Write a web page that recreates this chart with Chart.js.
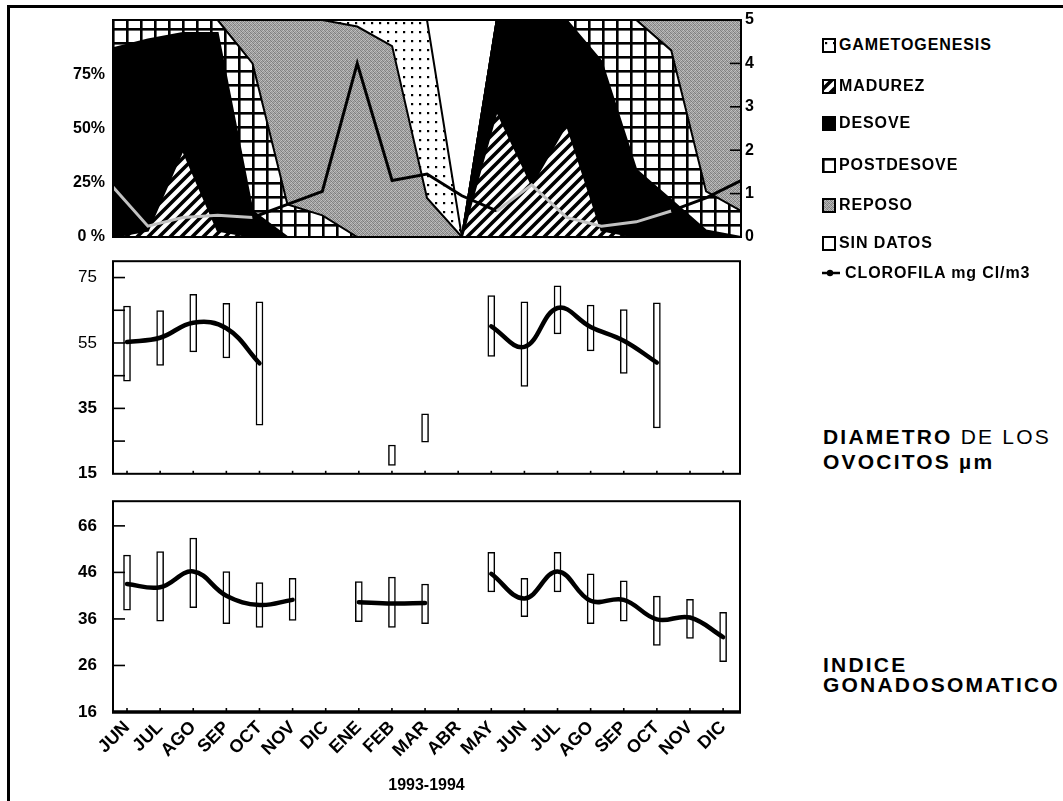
<!DOCTYPE html>
<html><head><meta charset="utf-8">
<script src="https://cdn.jsdelivr.net/npm/chart.js@4.4.1/dist/chart.umd.min.js"></script>
<style>
html,body{margin:0;padding:0;background:#fff;}
body{width:1063px;height:801px;position:relative;overflow:hidden;font-family:'Liberation Sans',Arial,sans-serif;color:#000;}
#frame{position:absolute;left:7px;top:5px;width:1060px;height:800px;border-left:3px solid #000;border-top:3px solid #000;box-sizing:border-box;}
canvas.chart{position:absolute;left:0;}
.leg{position:absolute;left:822px;height:18px;display:flex;align-items:center;font-size:16px;font-weight:bold;letter-spacing:0.9px;white-space:nowrap;}
.leg canvas{margin-right:3px;}
.side{position:absolute;left:823px;font-size:21px;font-weight:bold;letter-spacing:2.2px;white-space:nowrap;}
.side .n{font-weight:normal;}
</style></head><body>
<div id="frame"></div>
<canvas id="c1" class="chart" width="780" height="255" style="top:0px"></canvas>
<canvas id="c2" class="chart" width="780" height="265" style="top:235px"></canvas>
<canvas id="c3" class="chart" width="780" height="326" style="top:475px"></canvas>
<div id="legend"></div>
<div class="side" style="top:424px;line-height:25px;">DIAMETRO <span class="n">DE LOS</span><br>OVOCITOS µm</div>
<div class="side" style="top:655px;line-height:20px;">INDICE<br>GONADOSOMATICO</div>
<script>
// ---------------- DATA ----------------
const months = ['JUN','JUL','AGO','SEP','OCT','NOV','DIC','ENE','FEB','MAR','ABR','MAY','JUN','JUL','AGO','SEP','OCT','NOV','DIC'];
const xTitle = '1993-1994';

// Reproductive stages (% of individuals), stacked bottom -> top
const stageNames = ['MADUREZ','DESOVE','POSTDESOVE','REPOSO','GAMETOGENESIS','SIN DATOS'];
const madurez       = [0, 3, 40, 3, 0, 0, 0, 0, 0, 0, 0, 58, 24, 52, 3, 0, 0, 0, 0];
const desove        = [87, 88, 54, 91, 12, 0, 0, 0, 0, 0, 0, 42, 76, 48, 78, 31, 17, 3, 0];
const postdesove    = [13, 9, 6, 6, 68, 15, 10, 0, 0, 0, 0, 0, 0, 0, 19, 69, 69, 18, 12];
const reposo        = [0, 0, 0, 0, 20, 85, 90, 97, 88, 18, 0, 0, 0, 0, 0, 0, 14, 79, 88];
const gametogenesis = [0, 0, 0, 0, 0, 0, 0, 3, 12, 82, 0, 0, 0, 0, 0, 0, 0, 0, 0];
const sinDatos      = [0, 0, 0, 0, 0, 0, 0, 0, 0, 0, 100, 0, 0, 0, 0, 0, 0, 0, 0];
const clorofilaName = 'CLOROFILA mg Cl/m3';
const clorofila     = [1.15, 0.25, 0.45, 0.5, 0.45, 0.75, 1.05, 4.0, 1.3, 1.45, 0.95, 0.6, 1.2, 0.45, 0.25, 0.35, 0.6, 0.9, 1.3];
const pctTickValues  = [0, 25, 50, 75, 100];
const pctTickLabels  = ['0 %', '25%', '50%', '75%', ''];
const clorTickValues = [0, 1, 2, 3, 4, 5];
const clorTickLabels = ['0', '1', '2', '3', '4', '5'];

// Oocyte diameter (um): mean and range
const diamMean = [55.3, 56.6, 61.2, 59.5, 48.8, null, null, null, null, null, null, 60.1, 53.8, 65.7, 59.9, 55.7, 49.0, null, null];
const diamLow  = [43.3, 48.1, 52.3, 50.4, 29.9, null, null, null, 17.6, 24.7, null, 50.9, 41.7, 57.8, 52.6, 45.7, 29.0, null, null];
const diamHigh = [66.3, 64.9, 69.9, 67.1, 67.6, null, null, null, 23.8, 33.3, null, 69.5, 67.6, 72.5, 66.6, 65.2, 67.3, null, null];
const diamTickValues = [15, 25, 35, 45, 55, 65, 75];
const diamTickLabels = ['15', '', '35', '', '55', '', '75'];

// Gonadosomatic index: mean and range
const gsiMean = [43.5, 42.8, 46.2, 41.0, 39.0, 40.1, null, 39.6, 39.3, 39.4, null, 45.7, 40.4, 46.2, 39.9, 40.1, 35.9, 36.3, 32.1];
const gsiLow  = [37.9, 35.5, 38.4, 35.0, 34.2, 35.7, null, 35.4, 34.2, 35.0, null, 41.8, 36.5, 41.8, 35.0, 35.5, 30.3, 31.8, 26.8];
const gsiHigh = [49.7, 50.5, 53.4, 46.2, 43.8, 44.7, null, 44.0, 45.0, 43.5, null, 50.3, 44.7, 50.3, 45.7, 44.2, 40.9, 40.2, 37.4];
const gsiTickValues = [16, 26, 36, 46, 56];
const gsiTickLabels = ['16', '26', '36', '46', '66'];

// ---------------- STYLE / HELPERS ----------------
const FONT = "'Liberation Sans', Arial, Helvetica, sans-serif";
Chart.defaults.font.family = FONT;
Chart.defaults.color = '#000';
Chart.defaults.animation = false;
Chart.defaults.events = [];
Chart.defaults.plugins.legend.display = false;
Chart.defaults.plugins.tooltip.enabled = false;

function makeTile(w, h, draw) {
  const c = document.createElement('canvas'); c.width = w; c.height = h;
  const g = c.getContext('2d'); g.fillStyle = '#fff'; g.fillRect(0, 0, w, h); draw(g); return c;
}
const tiles = {
  dots: makeTile(8, 9, g => { g.fillStyle = '#000'; g.fillRect(3, 4, 2.2, 2.2); }),
  hatch: makeTile(11, 11, g => {
    g.strokeStyle = '#000'; g.lineWidth = 3.6; g.beginPath();
    g.moveTo(-3, 14); g.lineTo(14, -3); g.moveTo(-3, 3); g.lineTo(3, -3); g.moveTo(8, 14); g.lineTo(14, 8); g.stroke();
  }),
  grid: makeTile(14, 14, g => { g.fillStyle = '#000'; g.fillRect(0, 0, 14, 2.6); g.fillRect(0, 0, 2.6, 14); }),
  gray: makeTile(4, 4, g => {
    const v = [[150,192,128,176],[186,138,170,122],[132,172,146,196],[178,124,190,152]];
    for (let y = 0; y < 4; y++) for (let x = 0; x < 4; x++) { g.fillStyle = `rgb(${v[y][x]},${v[y][x]},${v[y][x]})`; g.fillRect(x, y, 1, 1); }
  })
};
const stageStyle = { 'MADUREZ': 'hatch', 'DESOVE': '#000', 'POSTDESOVE': 'grid', 'REPOSO': 'gray', 'GAMETOGENESIS': 'dots', 'SIN DATOS': '#fff' };
function paint(ctx, key) { return tiles[key] ? ctx.createPattern(tiles[key], 'repeat') : key; }

const xy = arr => arr.map((v, i) => ({ x: i, y: v }));
const ranges = (lo, hi) => lo.map((v, i) => (v == null ? null : { x: i, y: [v, hi[i]] })).filter(Boolean);
const monthIdx = months.map((_, i) => i);

const framePlugin = (w, bottomW) => ({
  id: 'frame',
  afterDraw(chart) {
    const { ctx, chartArea: a } = chart;
    ctx.save(); ctx.strokeStyle = '#000'; ctx.lineWidth = w;
    ctx.strokeRect(a.left, a.top, a.right - a.left, a.bottom - a.top);
    if (bottomW) { ctx.lineWidth = bottomW; ctx.beginPath(); ctx.moveTo(a.left - 1, a.bottom); ctx.lineTo(a.right + 1, a.bottom); ctx.stroke(); }
    ctx.restore();
  }
});
const innerTicks = specs => ({
  id: 'innerTicks',
  afterDraw(chart) {
    const { ctx, chartArea: a } = chart;
    ctx.save(); ctx.strokeStyle = '#000'; ctx.lineWidth = 1.6;
    specs.forEach(sp => {
      const s = chart.scales[sp.id];
      sp.values.forEach(v => {
        const p = s.getPixelForValue(v);
        ctx.beginPath();
        if (s.isHorizontal()) { ctx.moveTo(p, a.bottom); ctx.lineTo(p, a.bottom - sp.len); }
        else if (s.position === 'right') { ctx.moveTo(a.right, p); ctx.lineTo(a.right - sp.len, p); }
        else { ctx.moveTo(a.left, p); ctx.lineTo(a.left + sp.len, p); }
        ctx.stroke();
      });
    });
    ctx.restore();
  }
});
const noGrid = { display: false, drawTicks: false, offset: false };
const setTicks = vals => s => { s.ticks = vals.map(v => ({ value: v })); };

// ---------------- TOP: stages + chlorophyll ----------------
const c1 = document.getElementById('c1');
const ctx1 = c1.getContext('2d');
const stageData = [madurez, desove, postdesove, reposo, gametogenesis, sinDatos];
const inBlack = i => clorofila[i] * 20 <= madurez[i] + desove[i];
const topDatasets = stageData.map((arr, k) => ({
  label: stageNames[k], data: xy(arr), yAxisID: 'y',
  backgroundColor: paint(ctx1, stageStyle[stageNames[k]]),
  borderColor: '#000', borderWidth: 2, fill: k === 0 ? 'origin' : '-1',
  pointRadius: 0, tension: 0
}));
topDatasets.push({
  label: clorofilaName, data: xy(clorofila), yAxisID: 'y2', order: -1,
  borderColor: '#000', borderWidth: 3, fill: false, pointRadius: 0, tension: 0,
  segment: { borderColor: c => (inBlack(c.p0DataIndex) && inBlack(c.p1DataIndex)) ? '#c2c2c2' : '#000' }
});
new Chart(c1, {
  type: 'line',
  data: { datasets: topDatasets },
  options: {
    responsive: false,
    layout: { padding: { top: 20, bottom: 18, left: 0, right: 0 } },
    scales: {
      x: { type: 'linear', min: 0, max: 18, display: false, offset: false },
      y: { type: 'linear', position: 'left', stacked: true, min: 0, max: 100,
           afterFit: s => { s.width = 113; }, afterBuildTicks: setTicks(pctTickValues),
           ticks: { callback: (v, i) => pctTickLabels[i], padding: 8, font: { size: 16, weight: 'bold' } },
           grid: noGrid, border: { display: false } },
      y2: { type: 'linear', position: 'right', min: 0, max: 5,
            afterFit: s => { s.width = 39; }, afterBuildTicks: setTicks(clorTickValues),
            ticks: { callback: (v, i) => clorTickLabels[i], padding: 4, font: { size: 16, weight: 'bold' } },
            grid: noGrid, border: { display: false } }
    }
  },
  plugins: [framePlugin(2), innerTicks([{ id: 'y2', values: clorTickValues.slice(1, 5), len: 11 }])]
});

// ---------------- MIDDLE / BOTTOM: mean + range ----------------
const X_MIN = -0.423, X_MAX = 18.51;
function rangeChart(canvas, mean, lo, hi, yMin, yMax, tickVals, tickLabels, fontFn, padding, showX, tickSpec, frameArgs) {
  return new Chart(canvas, {
    type: 'bar',
    data: { datasets: [
      { type: 'line', data: xy(mean), borderColor: '#000', borderWidth: 4.5, pointRadius: 0, tension: 0.4,
        spanGaps: false, borderCapStyle: 'round', order: 0 },
      { type: 'bar', data: ranges(lo, hi), backgroundColor: '#fff', borderColor: '#000', borderWidth: 1.5,
        borderSkipped: false, barThickness: 7, order: 1 }
    ] },
    options: {
      responsive: false,
      layout: { padding: padding },
      scales: {
        x: showX ? {
          type: 'linear', min: X_MIN, max: X_MAX, offset: false,
          afterBuildTicks: setTicks(monthIdx), afterFit: s => { s.height = 85; },
          ticks: { autoSkip: false, maxRotation: 45, minRotation: 45, padding: 5,
                   callback: v => months[v], font: { size: 18, weight: 'bold' } },
          grid: noGrid, border: { display: false },
          title: { display: true, text: xTitle, font: { size: 16, weight: 'bold' }, padding: { top: 0, bottom: 2 } }
        } : { type: 'linear', min: X_MIN, max: X_MAX, display: false, offset: false, grid: noGrid },
        y: { type: 'linear', min: yMin, max: yMax,
             afterFit: s => { s.width = 113; }, afterBuildTicks: setTicks(tickVals),
             ticks: { callback: (v, i) => tickLabels[i], padding: 16, font: fontFn },
             grid: noGrid, border: { display: false } }
      }
    },
    plugins: [framePlugin(frameArgs[0], frameArgs[1]), innerTicks(tickSpec)]
  });
}

rangeChart(document.getElementById('c2'), diamMean, diamLow, diamHigh, 15, 80,
  diamTickValues, diamTickLabels,
  c => ({ size: 17, weight: (c.tick && c.tick.value <= 35) ? 'bold' : 'normal' }),
  { top: 17, bottom: 20, left: 0, right: 40 }, false,
  [{ id: 'y', values: diamTickValues.slice(1), len: 12 }, { id: 'x', values: monthIdx, len: 3 }], [2, 0]);

rangeChart(document.getElementById('c3'), gsiMean, gsiLow, gsiHigh, 16, 61.3,
  gsiTickValues, gsiTickLabels,
  { size: 17, weight: 'bold' },
  { top: 18, bottom: 4, left: 0, right: 40 }, true,
  [{ id: 'y', values: gsiTickValues.slice(1), len: 12 }, { id: 'x', values: monthIdx, len: 4 }], [2, 3.5]);

// ---------------- LEGEND ----------------
const legendOrder = ['GAMETOGENESIS', 'MADUREZ', 'DESOVE', 'POSTDESOVE', 'REPOSO', 'SIN DATOS'];
const legendY = [45, 86, 123, 165, 205, 243, 273];
const legend = document.getElementById('legend');
legendOrder.forEach((name, i) => {
  const d = document.createElement('div'); d.className = 'leg'; d.style.top = (legendY[i] - 9) + 'px';
  const sw = document.createElement('canvas'); sw.width = 14; sw.height = 15;
  const g = sw.getContext('2d'); g.fillStyle = paint(g, stageStyle[name]); g.fillRect(0, 0, 14, 15);
  g.strokeStyle = '#000'; g.lineWidth = 2; g.strokeRect(1, 1, 12, 13);
  d.appendChild(sw); d.appendChild(document.createTextNode(name)); legend.appendChild(d);
});
{
  const d = document.createElement('div'); d.className = 'leg'; d.style.top = (legendY[6] - 9) + 'px';
  const sw = document.createElement('canvas'); sw.width = 20; sw.height = 14;
  const g = sw.getContext('2d'); g.strokeStyle = '#000'; g.lineWidth = 2.5;
  g.beginPath(); g.moveTo(0, 7); g.lineTo(18, 7); g.stroke();
  g.beginPath(); g.arc(8, 7, 3.2, 0, Math.PI * 2); g.fillStyle = '#000'; g.fill();
  d.appendChild(sw); d.appendChild(document.createTextNode(clorofilaName)); legend.appendChild(d);
}
</script>
</body></html>
